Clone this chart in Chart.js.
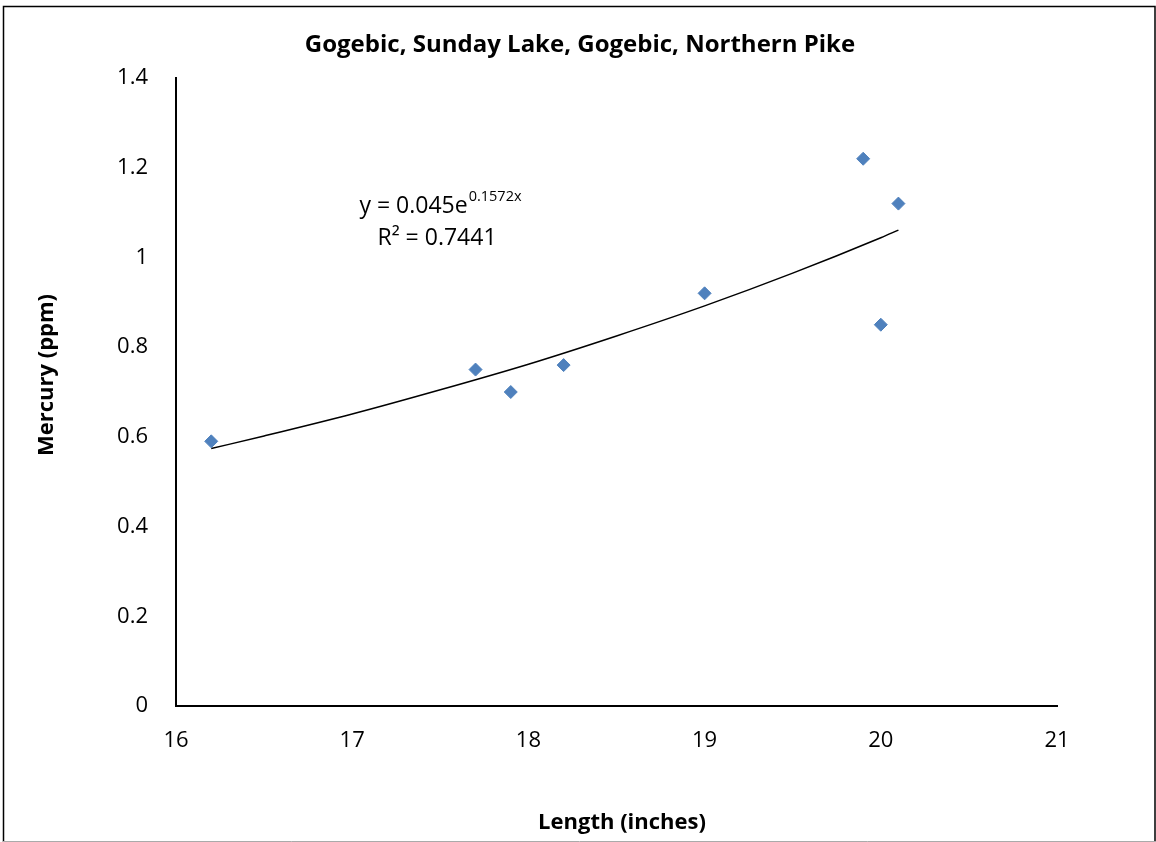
<!DOCTYPE html>
<html>
<head>
<meta charset="utf-8">
<script src="https://cdn.jsdelivr.net/npm/chart.js@4/dist/chart.umd.min.js"></script>
<style>
    html, body { margin: 0; padding: 0; background: #fff; }
    #wrap { width: 1156px; height: 842px; position: relative; }
</style>
</head>
<body>
<div id="wrap"><canvas id="chart" width="1156" height="842"></canvas></div>
<script>
// ===== DATA =====
const lengthInches = [16.2, 17.7, 17.9, 18.2, 19.0, 19.9, 20.0, 20.1];
const mercuryPpm   = [0.59, 0.75, 0.70, 0.76, 0.92, 1.22, 0.85, 1.12];

// trendline
const trendX = [16.2, 16.5, 17.0, 17.5, 18.0, 18.5, 19.0, 19.5, 20.0, 20.1];
const trendY = [0.574, 0.602, 0.651, 0.705, 0.762, 0.825, 0.892, 0.965, 1.044, 1.061];

const xTicks = [16, 17, 18, 19, 20, 21];
const yTicks = [0, 0.2, 0.4, 0.6, 0.8, 1, 1.2, 1.4];
const yTickLabels = ['0', '0.2', '0.4', '0.6', '0.8', '1', '1.2', '1.4'];

const chartTitle = 'Gogebic, Sunday Lake, Gogebic, Northern Pike';
const xTitle = 'Length (inches)';
const yTitle = 'Mercury (ppm)';
const eqMain = 'y = 0.045e';
const eqExp = '0.1572x';
const r2Text = 'R² = 0.7441';

const FONT = '"Open Sans", Lato, sans-serif';

// ===== TEXT + FRAME PLUGIN =====
const decorPlugin = {
    id: 'decor',
    afterDraw(chart) {
        const ctx = chart.ctx;
        ctx.save();

        // outer frame
        ctx.strokeStyle = '#000';
        ctx.lineWidth = 1.5;
        ctx.beginPath();
        ctx.moveTo(3.5, 842);
        ctx.lineTo(3.5, 6.5);
        ctx.lineTo(1155, 6.5);
        ctx.lineTo(1155, 842);
        ctx.stroke();
        ctx.strokeStyle = '#aaa';
        ctx.lineWidth = 1;
        ctx.beginPath();
        ctx.moveTo(3, 841.5);
        ctx.lineTo(1156, 841.5);
        ctx.stroke();

        ctx.fillStyle = '#000';
        ctx.textAlign = 'center';
        ctx.textBaseline = 'middle';

        // chart title
        ctx.font = 'bold 24px ' + FONT;
        ctx.fillText(chartTitle, 580, 45);

        // x title
        ctx.font = 'bold 22px ' + FONT;
        ctx.fillText(xTitle, 622, 823);

        // y title
        ctx.save();
        ctx.translate(47, 375);
        ctx.rotate(-Math.PI / 2);
        ctx.fillText(yTitle, 0, 0);
        ctx.restore();

        // trendline equation
        ctx.font = '23px ' + FONT;
        const mainW = ctx.measureText(eqMain).width;
        ctx.font = '14.5px ' + FONT;
        const expW = ctx.measureText(eqExp).width;
        const startX = 440 - (mainW + expW) / 2;
        ctx.textAlign = 'left';
        ctx.font = '23px ' + FONT;
        ctx.fillText(eqMain, startX, 206);
        ctx.font = '14.5px ' + FONT;
        ctx.fillText(eqExp, startX + mainW + 1, 197);
        ctx.textAlign = 'center';
        ctx.font = '23px ' + FONT;
        ctx.fillText(r2Text, 437, 238);

        ctx.restore();
    }
};

// ===== CHART =====
new Chart(document.getElementById('chart'), {
    type: 'scatter',
    data: {
        datasets: [
            {
                label: 'Mercury',
                data: lengthInches.map((x, i) => ({ x: x, y: mercuryPpm[i] })),
                pointStyle: 'rectRot',
                pointRadius: 6.5,
                pointBackgroundColor: '#4F81BD',
                pointBorderColor: '#4F81BD',
                pointBorderWidth: 1,
                showLine: false,
                order: 1
            },
            {
                label: 'Trend',
                data: trendX.map((x, i) => ({ x: x, y: trendY[i] })),
                showLine: true,
                borderColor: '#000',
                borderWidth: 1.5,
                pointRadius: 0,
                cubicInterpolationMode: 'monotone',
                fill: false,
                order: 2
            }
        ]
    },
    options: {
        responsive: false,
        animation: false,
        devicePixelRatio: 1,
        layout: { padding: { left: 0, top: 78, right: 99, bottom: 0 } },
        plugins: {
            legend: { display: false },
            title: { display: false },
            tooltip: { enabled: false }
        },
        scales: {
            x: {
                type: 'linear',
                min: 16,
                max: 21,
                afterFit: s => { s.height = 842 - 706; },
                afterBuildTicks: s => { s.ticks = xTicks.map(v => ({ value: v })); },
                grid: { display: false, drawOnChartArea: false, drawTicks: true, tickLength: 8, tickWidth: 1.5, tickColor: '#000' },
                border: { display: true, color: '#000', width: 2 },
                ticks: {
                    color: '#000',
                    font: { family: FONT, size: 22 },
                    padding: 14,
                    maxRotation: 0,
                    callback: v => String(v)
                }
            },
            y: {
                type: 'linear',
                min: 0,
                max: 1.4,
                afterFit: s => { s.width = 176; },
                afterBuildTicks: s => { s.ticks = yTicks.map(v => ({ value: v })); },
                grid: { display: false, drawOnChartArea: false, drawTicks: true, tickLength: 10, tickWidth: 1.5, tickColor: '#000' },
                border: { display: true, color: '#000', width: 2 },
                ticks: {
                    color: '#000',
                    font: { family: FONT, size: 22 },
                    padding: 18,
                    callback: (v, i) => yTickLabels[i]
                }
            }
        }
    },
    plugins: [decorPlugin]
});
</script>
</body>
</html>
